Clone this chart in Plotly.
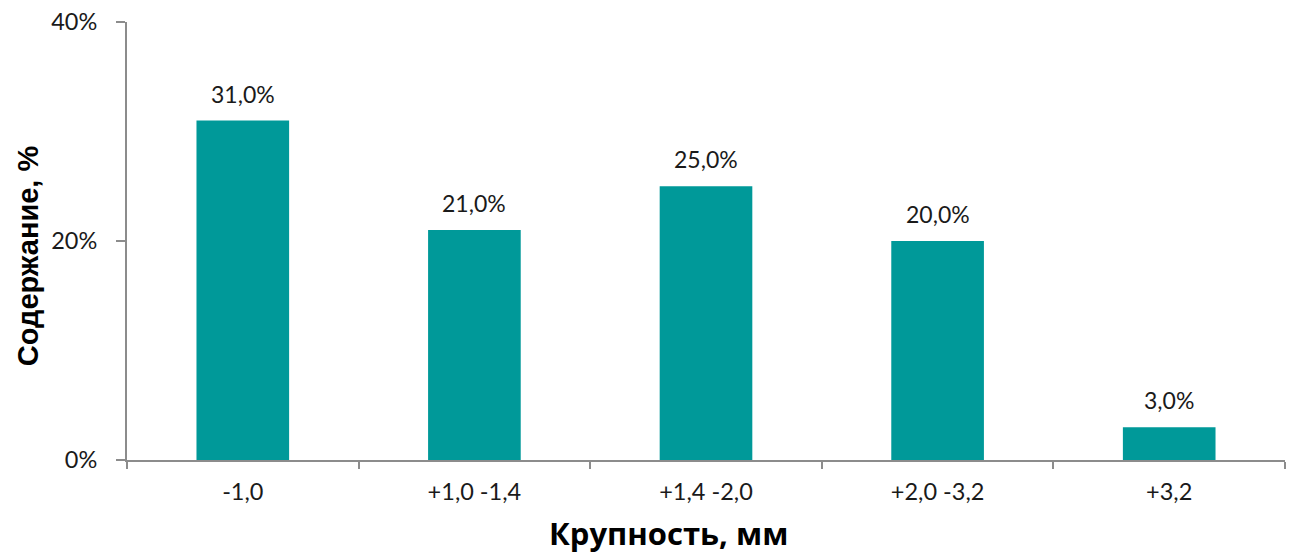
import plotly.graph_objects as go

categories = ["-1,0", "+1,0 -1,4", "+1,4 -2,0", "+2,0 -3,2", "+3,2"]
values = [31.0, 21.0, 25.0, 20.0, 3.0]
labels = ["31,0%", "21,0%", "25,0%", "20,0%", "3,0%"]
y_ticks = [0, 20, 40]
y_tick_labels = ["0%", "20%", "40%"]
x_title = "Крупность, мм"
y_title = "Содержание, %"

font_family = "Lato, 'Open Sans', sans-serif"

fig = go.Figure(go.Bar(
    x=categories, y=values,
    marker=dict(color="#009999", line=dict(width=0)),
    width=0.4,
))

for c, v, t in zip(categories, values, labels):
    fig.add_annotation(x=c, y=v, text=t, showarrow=False, yanchor="bottom", yshift=11,
                       font=dict(size=23, color="#1a1a1a", family=font_family))

# axis titles placed as annotations (offset like the reference)
fig.add_annotation(xref="paper", yref="paper", x=0.468, y=-0.167, xanchor="center", yanchor="middle",
                   text="<b>" + x_title + "</b>", showarrow=False,
                   font=dict(size=31, family="'Open Sans', sans-serif", color="#000000"))
fig.add_annotation(xref="paper", yref="paper", x=-0.086, y=0.466, xanchor="center", yanchor="middle",
                   text="<b>" + y_title + "</b>", showarrow=False, textangle=-90,
                   font=dict(size=29, family="'Liberation Sans', Arial, sans-serif", color="#000000"))

fig.update_layout(
    width=1292, height=555,
    margin=dict(l=127, r=7, t=22, b=95),
    plot_bgcolor="white", paper_bgcolor="white",
    showlegend=False,
    font=dict(family=font_family, size=23.5, color="#1a1a1a"),
    xaxis=dict(
        automargin=False,
        showline=True, linecolor="#8c8c8c", linewidth=2,
        ticks="outside", tickson="boundaries", ticklen=7, tickcolor="#8c8c8c", tickwidth=2,
        tickfont=dict(size=23.5), ticklabelstandoff=10,
    ),
    yaxis=dict(
        automargin=False,
        range=[0, 40], tickvals=y_ticks, ticktext=y_tick_labels,
        showline=True, linecolor="#8c8c8c", linewidth=2,
        ticks="outside", ticklen=9, tickcolor="#8c8c8c", tickwidth=2,
        showgrid=False, zeroline=False,
        tickfont=dict(size=23.5), ticklabelstandoff=14,
    ),
)

fig.write_html("out.html", config={"displayModeBar": False},
               post_script="document.body.style.margin='0';")
